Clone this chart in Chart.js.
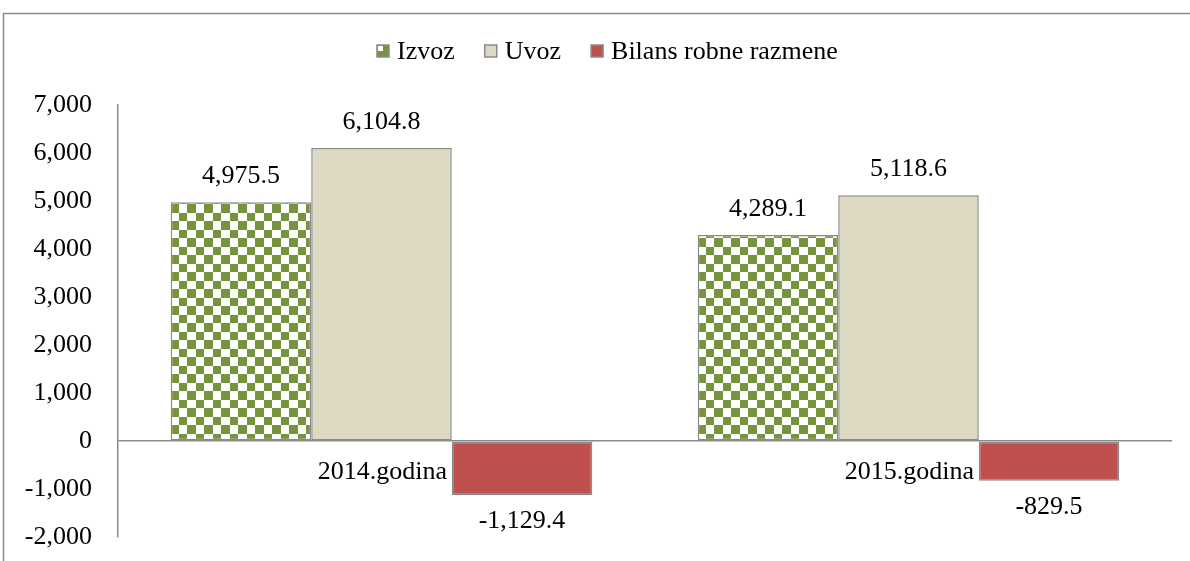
<!DOCTYPE html>
<html lang="en">
<head>
  <meta charset="utf-8">
  <title>Izvoz / Uvoz</title>
  <script src="https://cdn.jsdelivr.net/npm/chart.js"></script>
  <style>
    body { margin: 0; background: #fff; }
    #wrap { position: relative; width: 1190px; height: 561px; }
  </style>
</head>
<body>
<div id="wrap">
  <canvas id="myChart" width="1190" height="561"></canvas>
</div>
<script>
  // chart data
  const categories = ['2014.godina', '2015.godina'];
  const seriesNames = ['Izvoz', 'Uvoz', 'Bilans robne razmene'];
  const izvoz = [4975.5, 4289.1];
  const uvoz = [6104.8, 5118.6];
  const bilans = [-1129.4, -829.5];
  const yTicks = [-2000, -1000, 0, 1000, 2000, 3000, 4000, 5000, 6000, 7000];

  const FONT = "'Liberation Serif', 'Times New Roman', serif";
  const FSIZE = 26;
  const GREY = '#8a8a8a';
  const GREEN = '#77933c';

  // checkered green fill for Izvoz
  function makeChecker() {
    const c = document.createElement('canvas');
    c.width = 17; c.height = 17;
    const g = c.getContext('2d');
    g.fillStyle = '#ffffff';
    g.fillRect(0, 0, 17, 17);
    g.fillStyle = GREEN;
    g.fillRect(0, 0, 9, 9);
    g.fillRect(9, 9, 8, 8);
    return g.createPattern(c, 'repeat');
  }
  const checker = makeChecker();
  const fills = [checker, '#ddd9c3', '#c0504d'];

  function fmt(v) {
    return v.toLocaleString('en-US', { minimumFractionDigits: 1, maximumFractionDigits: 1 });
  }

  // outer frame, custom legend and category labels
  const decor = {
    id: 'decor',
    beforeDraw(chart) {
      const ctx = chart.ctx;
      ctx.save();
      ctx.fillStyle = '#fff';
      ctx.fillRect(0, 0, chart.width, chart.height);
      ctx.strokeStyle = GREY;
      ctx.lineWidth = 1.5;
      ctx.strokeRect(3.5, 13.5, 1300, 700);

      // legend
      ctx.font = FSIZE + 'px ' + FONT;
      ctx.textBaseline = 'middle';
      ctx.textAlign = 'left';
      let x = 377;
      const y = 51;
      seriesNames.forEach((name, i) => {
        if (i === 0) {
          ctx.fillStyle = GREEN;
          ctx.fillRect(x, y - 6, 12, 12);
          ctx.fillStyle = '#fff';
          ctx.fillRect(x + 1, y - 5, 5, 5);
        } else {
          ctx.fillStyle = fills[i];
          ctx.fillRect(x, y - 6, 12, 12);
        }
        ctx.strokeStyle = GREY;
        ctx.lineWidth = 1.5;
        ctx.strokeRect(x, y - 6, 12, 12);
        ctx.fillStyle = '#000';
        ctx.fillText(name, x + 20, y + 1);
        x += 20 + ctx.measureText(name).width + 30;
      });
      ctx.restore();
    },
    beforeDatasetsDraw(chart) {
      const ctx = chart.ctx;
      const xs = chart.scales.x;
      const zero = chart.scales.y.getPixelForValue(0);
      ctx.save();
      ctx.font = FSIZE + 'px ' + FONT;
      ctx.fillStyle = '#000';
      ctx.textAlign = 'center';
      ctx.textBaseline = 'middle';
      categories.forEach((c, i) => {
        ctx.fillText(c, xs.getPixelForValue(i) + 1, zero + 31);
      });
      ctx.restore();
    },
    afterDatasetsDraw(chart) {
      const ctx = chart.ctx;
      ctx.save();
      ctx.font = FSIZE + 'px ' + FONT;
      ctx.fillStyle = '#000';
      ctx.textAlign = 'center';
      ctx.textBaseline = 'middle';
      chart.data.datasets.forEach((ds, di) => {
        chart.getDatasetMeta(di).data.forEach((bar, i) => {
          const v = ds.data[i];
          const y = v >= 0 ? bar.y - 26 : bar.y + 26;
          ctx.fillText(fmt(v), bar.x, y);
        });
      });
      ctx.restore();
    }
  };

  const datasets = [izvoz, uvoz, bilans].map((d, i) => ({
    label: seriesNames[i],
    data: d,
    backgroundColor: fills[i],
    borderColor: GREY,
    borderWidth: 1.5,
    borderSkipped: false,
    categoryPercentage: 0.8,
    barPercentage: 1.0
  }));

  const chart = new Chart(document.getElementById('myChart'), {
    type: 'bar',
    data: { labels: categories, datasets: datasets },
    options: {
      responsive: false,
      animation: false,
      layout: { padding: { top: 105, left: 0, right: 18, bottom: 24 } },
      plugins: { legend: { display: false }, tooltip: { enabled: false } },
      scales: {
        x: { display: false },
        y: {
          min: -2000,
          max: 7000,
          afterBuildTicks(scale) {
            scale.ticks = yTicks.map(v => ({ value: v }));
          },
          afterFit(scale) { scale.width = 118; },
          border: { display: true, color: GREY, width: 1.5 },
          grid: {
            drawTicks: true,
            tickLength: 26,
            tickColor: 'rgba(0,0,0,0)',
            lineWidth: 1.5,
            color: ctx => (ctx.tick && ctx.tick.value === 0 ? GREY : 'rgba(0,0,0,0)')
          },
          ticks: {
            padding: 0,
            color: '#000',
            font: { family: FONT, size: FSIZE },
            callback: v => v.toLocaleString('en-US')
          }
        }
      }
    },
    plugins: [decor]
  });
</script>
</body>
</html>
